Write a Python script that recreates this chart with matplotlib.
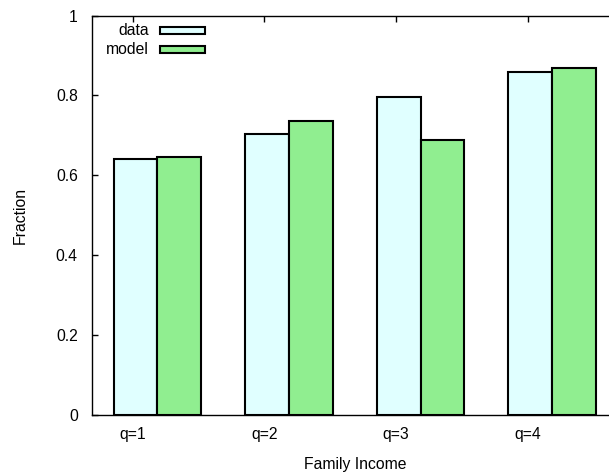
import matplotlib

matplotlib.use("Agg")
import matplotlib.pyplot as plt
import numpy as np
from matplotlib.patches import Rectangle

plt.rcParams["font.family"] = ["Liberation Sans", "DejaVu Sans"]
plt.rcParams["font.size"] = 11.3

groups = ["q=1", "q=2", "q=3", "q=4"]
data_vals = [0.642, 0.703, 0.795, 0.860]
model_vals = [0.647, 0.737, 0.689, 0.869]
series_names = ["data", "model"]
colors = ["#e0ffff", "#90ee90"]

x = np.arange(len(groups))
w = 1 / 3

fig = plt.figure(figsize=(6.09, 4.73), dpi=100)
ax = fig.add_axes([0.1506, 0.1233, 0.864, 0.8435])

ax.bar(x - w / 2, data_vals, w, color=colors[0], edgecolor="black", linewidth=1.5, zorder=2)
ax.bar(x + w / 2, model_vals, w, color=colors[1], edgecolor="black", linewidth=1.5, zorder=2)

ax.set_xlim(-0.5, 3.5)
ax.set_ylim(0, 1)
ax.set_yticks([0, 0.2, 0.4, 0.6, 0.8, 1])
ax.set_yticklabels(["0", "0.2", "0.4", "0.6", "0.8", "1"])
ax.set_xticks(x - w / 2 - 0.02)
ax.set_xticklabels(groups)
ax.tick_params(direction="in", top=True, right=True, length=4, width=1)
ax.tick_params(axis="y", pad=10)
ax.tick_params(axis="x", pad=9)
for s in ax.spines.values():
    s.set_linewidth(1)

ax.set_ylabel("Fraction", labelpad=20)
ax.set_xlabel("Family Income", labelpad=11)

# gnuplot-style key: right-aligned text, box to its right
for i, (name, c) in enumerate(zip(series_names, colors)):
    y0 = 0.963 - i * 0.048
    ax.text(0.108, y0, name, transform=ax.transAxes, ha="right", va="center")
    ax.add_patch(Rectangle((0.13, y0 - 0.009), 0.085, 0.018, transform=ax.transAxes,
                           facecolor=c, edgecolor="black", linewidth=1.5, clip_on=False))

fig.savefig("out.png", dpi=100)
